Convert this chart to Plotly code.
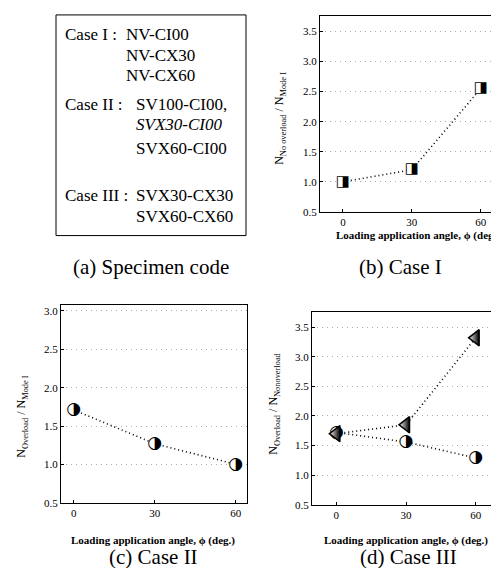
import plotly.graph_objects as go

W, H = 499, 568

angles = [0, 30, 60]
case1_vals = [1.0, 1.2, 2.55]
case2_vals = [1.71, 1.27, 1.0]
case3_tri_vals = [1.70, 1.85, 3.32]
case3_circ_vals = [1.72, 1.56, 1.29]
x_ticks = [0, 30, 60]
y_ticks_b = [0.5, 1.0, 1.5, 2.0, 2.5, 3.0, 3.5]
y_ticks_c = [0.5, 1.0, 1.5, 2.0, 2.5, 3.0]

spec_lines = [
    ("Case I :", "NV-CI00"),
    ("", "NV-CX30"),
    ("", "NV-CX60"),
    ("Case II :", "SV100-CI00,"),
    ("", "<i>SVX30-CI00</i>"),
    ("", "SVX60-CI00"),
    ("Case III :", "SVX30-CX30"),
    ("", "SVX60-CX60"),
]

SERIF = "Liberation Serif, Times New Roman, serif"
GLYPH = "DejaVu Sans"


def px(x):
    return x / W


def py(y):
    return 1 - y / H


fig = go.Figure()

DOT = "1px,3px"


def glyph_trace(x, y, glyph, xa, ya, gsize=17, msize=12, msym="circle"):
    return go.Scatter(
        x=x, y=y, xaxis=xa, yaxis=ya,
        mode="lines+markers+text",
        line=dict(color="black", width=1.6, dash=DOT),
        marker=dict(symbol=msym, size=msize, color="white", line=dict(width=0)),
        text=[glyph] * len(x), textposition="middle center",
        textfont=dict(family=GLYPH, size=gsize, color="black"),
        showlegend=False, hoverinfo="skip", cliponaxis=False,
    )


# (b) Case I
fig.add_trace(glyph_trace(angles, case1_vals, "◨", "x", "y", gsize=15, msize=11, msym="square"))
# (c) Case II
fig.add_trace(glyph_trace(angles, case2_vals, "◑", "x2", "y2", gsize=17, msize=12))
# (d) Case III
fig.add_trace(glyph_trace(angles, case3_circ_vals, "◑", "x3", "y3", gsize=17, msize=12))
fig.add_trace(go.Scatter(
    x=angles, y=case3_tri_vals, xaxis="x3", yaxis="y3",
    mode="lines+markers",
    line=dict(color="black", width=1.6, dash=DOT),
    marker=dict(symbol="triangle-left", size=14, color="white",
                gradient=dict(type="horizontal", color="black"),
                line=dict(color="black", width=1.5)),
    showlegend=False, hoverinfo="skip", cliponaxis=False,
))

axis_common = dict(
    showline=True, linecolor="black", linewidth=1, mirror=True,
    ticks="inside", ticklen=3, tickcolor="black",
    tickfont=dict(family=SERIF, size=11, color="black"),
    zeroline=False,
)
grid = dict(showgrid=True, gridcolor="#aaa", griddash="1px,4px", gridwidth=1)

fig.update_layout(
    width=W, height=H,
    margin=dict(l=0, r=0, t=0, b=0),
    paper_bgcolor="white", plot_bgcolor="white",
    xaxis=dict(domain=[px(312), px(498)], range=[-10, 71], tickvals=x_ticks,
               showgrid=False, anchor="y", **axis_common),
    yaxis=dict(domain=[py(206), py(8)], range=[0.5, 3.76], tickvals=y_ticks_b,
               tickformat=".1f", anchor="x", **grid, **axis_common),
    xaxis2=dict(domain=[px(53), px(239)], range=[-4.7, 64.2], tickvals=x_ticks,
                showgrid=False, anchor="y2", **axis_common),
    yaxis2=dict(domain=[py(500), py(300)], range=[0.5, 3.08], tickvals=y_ticks_c,
                tickformat=".1f", anchor="x2", **grid, **axis_common),
    xaxis3=dict(domain=[px(304), px(492)], range=[-10.5, 70.5], tickvals=x_ticks,
                showgrid=False, anchor="y3", **axis_common),
    yaxis3=dict(domain=[py(502), py(307)], range=[0.5, 3.76], tickvals=y_ticks_b,
                tickformat=".1f", anchor="x3", **grid, **axis_common),
)

ann = []


def text_at(x, y, t, size, xanchor="center", angle=0):
    ann.append(dict(x=px(x), y=py(y), xref="paper", yref="paper", text=t,
                    showarrow=False, xanchor=xanchor, yanchor="middle",
                    textangle=angle, borderpad=0,
                    font=dict(family=SERIF, size=size, color="black")))


# (a) specimen code box
fig.add_shape(type="rect", xref="paper", yref="paper",
              x0=px(48), x1=px(238), y0=py(230), y1=py(7),
              line=dict(color="black", width=1))
line_y = [27, 48, 68, 98, 118, 142, 190, 211]
for (lab, code), yy in zip(spec_lines, line_y):
    if lab:
        text_at(56, yy, lab, 17, "left")
    col = 117 if yy < 80 else 127
    text_at(col, yy, code, 17, "left")

# captions
text_at(143, 262, "(a) Specimen code", 21)
text_at(392, 262, "(b) Case I", 21)
text_at(145, 555, "(c) Case II", 21)
text_at(400, 555, "(d) Case III", 21)

# axis titles
xt = "<b>Loading application angle, ϕ (deg.)</b>"
text_at(410, 230, xt, 11, "center")
text_at(145, 538, xt, 11)
text_at(398, 538, xt, 11)
text_at(272, 112, "N<sub>No overload</sub> / N<sub>Mode I</sub>", 12, angle=-90)
text_at(14, 413, "N<sub>Overload</sub> / N<sub>Mode I</sub>", 12, angle=-90)
text_at(266, 400, "N<sub>Overload</sub> / N<sub>Nonoverload</sub>", 12, angle=-90)

fig.update_layout(annotations=ann)
fig.write_html("out.html")
